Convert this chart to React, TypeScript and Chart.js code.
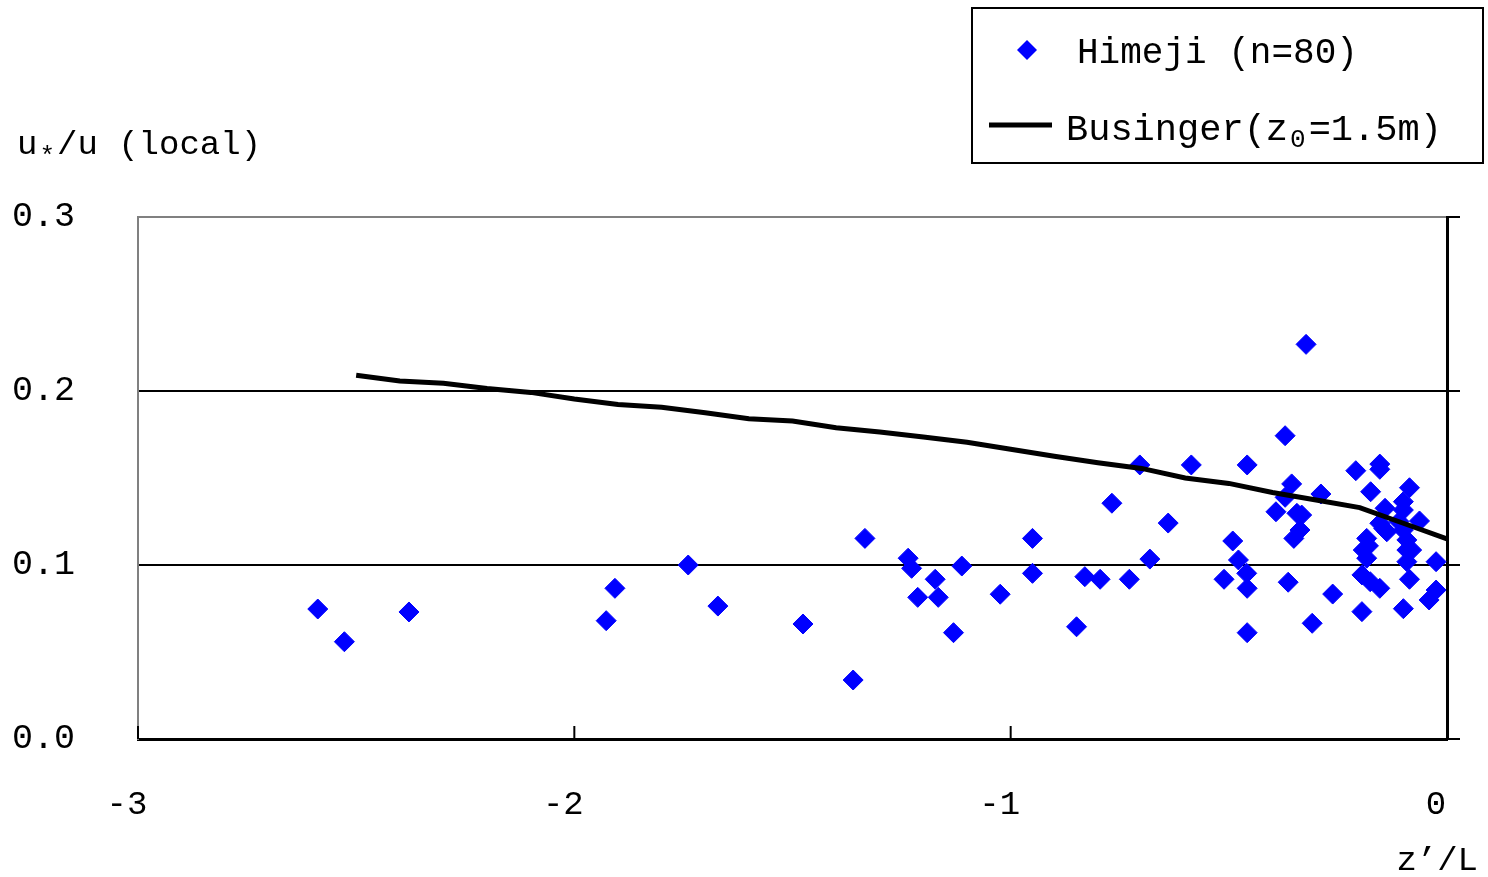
import React, { useEffect, useRef } from 'react';
import { Chart, registerables } from 'chart.js';

Chart.register(...registerables);

const FONT = '"Liberation Mono", "DejaVu Sans Mono", monospace';

// Himeji observations (z'/L, u*/u local)
const himejiX = [
  -2.588, -2.527, -2.379, -1.927, -1.907, -1.739, -1.671, -1.476, -0.704,
  -1.334, -1.361, -1.235, -1.227, -1.173, -1.213, -1.166, -1.112, -1.131, -1.024,
  -0.95, -0.95, -0.849, -0.83, -0.795, -0.728, -0.768, -0.681, -0.639,
  -0.323, -0.371, -0.586, -0.458, -0.209, -0.154, -0.154, -0.356, -0.175, -0.289,
  -0.086, -0.371, -0.1, -0.142, -0.1, -0.392, -0.344, -0.333, -0.063, -0.154,
  -0.138, -0.337, -0.351, -0.184, -0.1, -0.092, -0.192, -0.184, -0.092, -0.081,
  -0.092, -0.025, -0.491, -0.478, -0.459, -0.511, -0.458, -0.364, -0.195, -0.176,
  -0.154, -0.086, -0.262, -0.025, -0.041, -0.195, -0.1, -0.309, -0.458,
  -0.145, -0.11, -0.18,
];
const himejiY = [
  0.0747, 0.0559, 0.073, 0.068, 0.0866, 0.1, 0.0764, 0.0661, 0.1575,
  0.1153, 0.0339, 0.1039, 0.0981, 0.0918, 0.0814, 0.0814, 0.0994, 0.0611, 0.0832,
  0.1153, 0.0952, 0.0645, 0.0933, 0.0918, 0.0918, 0.1355, 0.1034, 0.1241,
  0.2268, 0.1743, 0.1575, 0.1575, 0.1542, 0.158, 0.155, 0.1466, 0.1421, 0.1408,
  0.1444, 0.1389, 0.1364, 0.1326, 0.1316, 0.1306, 0.1297, 0.1287, 0.1253, 0.124,
  0.1191, 0.1201, 0.1153, 0.1153, 0.1201, 0.1144, 0.1086, 0.1039, 0.1086, 0.1086,
  0.1019, 0.1019, 0.1138, 0.1029, 0.0952, 0.0918, 0.0866, 0.0901, 0.0943, 0.0904,
  0.0866, 0.0918, 0.0833, 0.0856, 0.0799, 0.0732, 0.0749, 0.0665, 0.0611,
  0.121, 0.125, 0.111,
];

// Businger curve (z0 = 1.5 m)
const busingerX = [
  -2.5, -2.4, -2.3, -2.2, -2.1, -2.0, -1.9, -1.8, -1.7, -1.6, -1.5, -1.4, -1.3,
  -1.2, -1.1, -1.0, -0.9, -0.8, -0.7, -0.6, -0.5, -0.4, -0.3, -0.2, -0.1, 0.0,
];
const busingerY = [
  0.209, 0.2057, 0.2044, 0.2015, 0.1992, 0.1954, 0.1923, 0.1906, 0.1875, 0.1841,
  0.1828, 0.1789, 0.1764, 0.1736, 0.1705, 0.1665, 0.1625, 0.1588, 0.1555, 0.15,
  0.1469, 0.1417, 0.1374, 0.133, 0.124, 0.115,
];

const xTicks = [-3, -2, -1, 0];
const yTicks = [0, 0.1, 0.2, 0.3];

const seriesLabels = ['Himeji (n=80)', 'Businger(z0=1.5m)'];
const yTitle = ['u', '*', '/u (local)'];
const xTitle = 'z\u2019/L';

const decorPlugin = {
  id: 'decor',
  afterDraw(chart: any) {
    const ctx = chart.ctx;
    const xs = chart.scales.x;
    const area = chart.chartArea;
    ctx.save();
    // inward x ticks
    ctx.strokeStyle = '#000';
    ctx.lineWidth = 2;
    xTicks.forEach((v) => {
      const px = xs.getPixelForValue(v);
      ctx.beginPath();
      ctx.moveTo(px, area.bottom - 13);
      ctx.lineTo(px, area.bottom);
      ctx.stroke();
    });

    ctx.fillStyle = '#000';
    ctx.textBaseline = 'alphabetic';
    ctx.textAlign = 'left';
    // y title
    let x = 17;
    ctx.font = `34px ${FONT}`;
    ctx.fillText(yTitle[0], x, 154);
    x += ctx.measureText(yTitle[0]).width + 2;
    ctx.font = `26px ${FONT}`;
    ctx.fillText(yTitle[1], x, 164);
    x += ctx.measureText(yTitle[1]).width + 2;
    ctx.font = `34px ${FONT}`;
    ctx.fillText(yTitle[2], x, 154);

    // x title
    ctx.textAlign = 'right';
    ctx.fillText(xTitle, 1478, 870);

    // legend
    ctx.textAlign = 'left';
    ctx.lineWidth = 2;
    ctx.strokeStyle = '#000';
    ctx.strokeRect(972, 8, 511, 155);
    // marker
    ctx.fillStyle = '#0000FF';
    ctx.beginPath();
    ctx.moveTo(1027, 40);
    ctx.lineTo(1037, 50);
    ctx.lineTo(1027, 60);
    ctx.lineTo(1017, 50);
    ctx.closePath();
    ctx.fill();
    // line sample
    ctx.lineWidth = 5;
    ctx.beginPath();
    ctx.moveTo(989, 125);
    ctx.lineTo(1052, 125);
    ctx.stroke();

    ctx.fillStyle = '#000';
    ctx.font = `36px ${FONT}`;
    ctx.fillText(seriesLabels[0], 1077, 63);
    // Businger(z0=1.5m) with subscript 0
    const label = seriesLabels[1];
    const i0 = label.indexOf('z0') + 1;
    let lx = 1066;
    const partA = label.slice(0, i0);
    const sub = label.slice(i0, i0 + 1);
    const partB = label.slice(i0 + 1);
    ctx.font = `37px ${FONT}`;
    ctx.fillText(partA, lx, 140);
    lx += ctx.measureText(partA).width + 2;
    ctx.font = `26px ${FONT}`;
    ctx.fillText(sub, lx, 147);
    lx += ctx.measureText(sub).width + 3;
    ctx.font = `37px ${FONT}`;
    ctx.fillText(partB, lx, 140);
    ctx.restore();
  },
};

export default function App() {
  const ref = useRef<HTMLCanvasElement | null>(null);

  useEffect(() => {
    if (!ref.current) return;
    const chart = new Chart(ref.current, {
      type: 'scatter',
      data: {
        datasets: [
          {
            type: 'line',
            label: seriesLabels[1],
            data: busingerX.map((x, i) => ({ x, y: busingerY[i] })),
            borderColor: '#000',
            borderWidth: 5,
            pointRadius: 0,
            fill: false,
            tension: 0,
            order: 1,
          } as any,
          {
            type: 'scatter',
            label: seriesLabels[0],
            data: himejiX.map((x, i) => ({ x, y: himejiY[i] })),
            backgroundColor: '#0000FF',
            borderColor: '#0000FF',
            borderWidth: 1,
            pointStyle: 'rectRot',
            pointRadius: 10,
            order: 2,
          },
        ],
      },
      options: {
        animation: false,
        responsive: false,
        layout: { padding: { top: 217, left: 0, right: 0, bottom: 0 } },
        plugins: {
          legend: { display: false },
          tooltip: { enabled: false },
        },
        scales: {
          x: {
            type: 'linear',
            position: 'bottom',
            min: xTicks[0],
            max: xTicks[xTicks.length - 1],
            afterBuildTicks: (s: any) => {
              s.ticks = xTicks.map((v) => ({ value: v }));
            },
            afterFit: (s: any) => {
              s.height = 138;
            },
            ticks: {
              font: { family: FONT, size: 34 },
              color: '#000',
              padding: 0,
              labelOffset: -11,
              maxRotation: 0,
              autoSkip: false,
              callback: (v: any) => String(v),
            },
            grid: {
              display: true,
              drawOnChartArea: false,
              drawTicks: true,
              tickLength: 46,
              color: 'rgba(0,0,0,0)',
            },
            border: { display: true, color: '#000', width: 3 },
          },
          y: {
            type: 'linear',
            position: 'left',
            min: yTicks[0],
            max: yTicks[yTicks.length - 1],
            afterBuildTicks: (s: any) => {
              s.ticks = yTicks.map((v) => ({ value: v }));
            },
            afterFit: (s: any) => {
              s.width = 138;
            },
            ticks: {
              font: { family: FONT, size: 35 },
              color: '#000',
              padding: 63,
              callback: (v: any) => Number(v).toFixed(1),
            },
            grid: {
              drawTicks: false,
              lineWidth: 2,
              color: (c: any) => {
                const v = c.tick ? c.tick.value : 0;
                if (Math.abs(v - 0.3) < 1e-6) return '#808080';
                if (Math.abs(v) < 1e-6) return 'rgba(0,0,0,0)';
                return '#000';
              },
            },
            border: { display: true, color: '#808080', width: 2 },
          },
          y2: {
            type: 'linear',
            position: 'right',
            min: yTicks[0],
            max: yTicks[yTicks.length - 1],
            afterBuildTicks: (s: any) => {
              s.ticks = yTicks.map((v) => ({ value: v }));
            },
            afterFit: (s: any) => {
              s.width = 41;
            },
            ticks: { display: false },
            grid: {
              drawOnChartArea: false,
              drawTicks: true,
              tickLength: 13,
              color: '#000',
              lineWidth: 2,
            },
            border: { display: true, color: '#000', width: 3 },
          },
        },
      },
      plugins: [decorPlugin],
    });
    return () => chart.destroy();
  }, []);

  return (
    <div style={{ position: 'absolute', left: 0, top: 0, width: 1488, height: 877, background: '#fff' }}>
      <canvas ref={ref} width={1488} height={877} style={{ display: 'block' }} />
    </div>
  );
}
